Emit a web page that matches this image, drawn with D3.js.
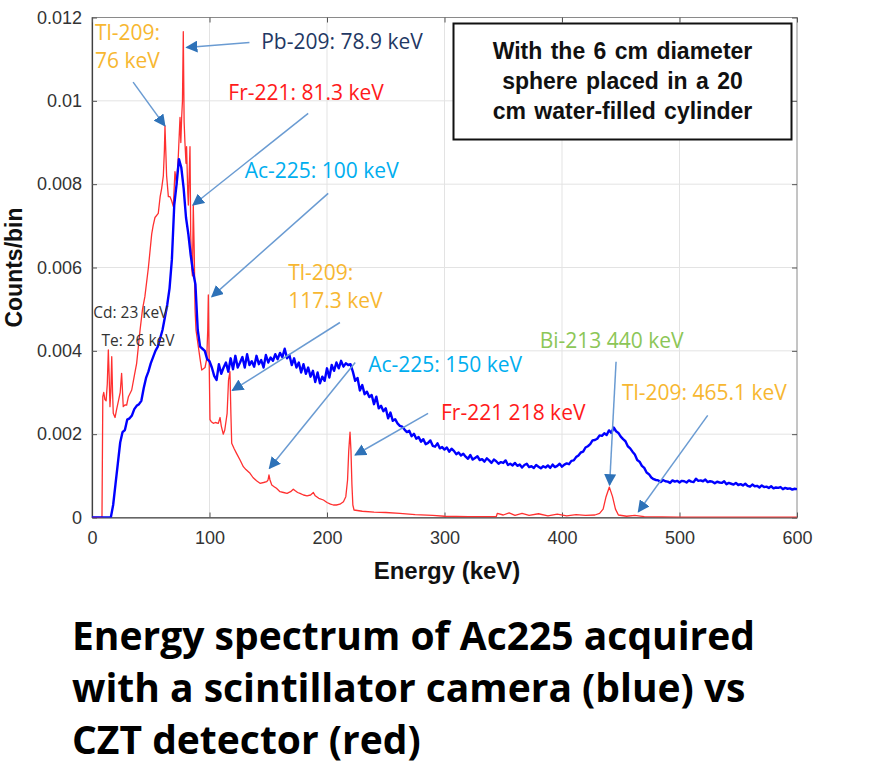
<!DOCTYPE html>
<html>
<head>
<meta charset="utf-8">
<script src="https://cdn.jsdelivr.net/npm/d3@7/dist/d3.min.js"></script>
<style>
  html, body { margin: 0; padding: 0; background: #fff; }
  svg { display: block; }
</style>
</head>
<body>
<svg id="chart" width="896" height="779"></svg>
<script>
// ---------------- DATA ----------------
const xTicks = [0, 100, 200, 300, 400, 500, 600];
const yTicks = [0, 0.002, 0.004, 0.006, 0.008, 0.01, 0.012];
const yTickLabels = ["0", "0.002", "0.004", "0.006", "0.008", "0.01", "0.012"];

// Scintillator camera (blue), bins of 2 keV starting at 0 keV (one row = 20 keV)
const blueStartKeV = 0, blueBinKeV = 2;
const blueCounts = [
  0,0,0,0,0,0,0,0,0,0.0003,
  0.0008,0.0013,0.0018,0.00205,0.0021,0.00235,0.00238,0.00245,0.0026,0.00268,
  0.00272,0.0028,0.0031,0.00335,0.0035,0.0037,0.00385,0.004,0.0041,0.0043,
  0.0045,0.0048,0.0051,0.0055,0.0062,0.0075,0.008,0.0086,0.0084,0.0079,
  0.0072,0.0068,0.0063,0.0059,0.0056,0.0045,0.0041,0.00405,0.004,0.0038,
  0.00375,0.0036,0.0034,0.0033,0.00368,0.00345,0.0036,0.00372,0.0035,0.00382,
  0.00356,0.00388,0.0036,0.00372,0.00385,0.0036,0.00392,0.00366,0.00375,0.00362,
  0.00388,0.00368,0.00378,0.0036,0.0039,0.00372,0.00384,0.00376,0.00392,0.0038,
  0.00395,0.00385,0.00405,0.00382,0.0039,0.00366,0.00382,0.0036,0.00372,0.00348,
  0.00368,0.00345,0.0036,0.00338,0.00352,0.00325,0.00348,0.00322,0.00338,0.00328,
  0.00358,0.00336,0.00366,0.00352,0.00372,0.00358,0.00376,0.00362,0.0037,0.00366,
  0.00368,0.0035,0.00328,0.00335,0.00305,0.00318,0.00296,0.00302,0.00289,0.00294,
  0.00272,0.0029,0.00262,0.00268,0.00255,0.00262,0.00238,0.00252,0.00232,0.00236,
  0.00226,0.0022,0.00218,0.00211,0.00205,0.00208,0.00195,0.00201,0.00189,0.00193,
  0.00182,0.00188,0.00176,0.00179,0.00185,0.00172,0.0017,0.00178,0.00166,0.00169,
  0.00163,0.00168,0.00158,0.00165,0.0016,0.00152,0.00156,0.00149,0.00153,0.00146,
  0.00141,0.0015,0.00139,0.00143,0.00147,0.00138,0.0014,0.00134,0.00142,0.00137,
  0.00131,0.00139,0.00135,0.00129,0.00133,0.00131,0.00137,0.00126,0.00129,0.00125,
  0.00131,0.00124,0.00127,0.0012,0.00126,0.00129,0.00121,0.00123,0.00119,0.00126,
  0.00122,0.00118,0.00123,0.0012,0.00125,0.00119,0.00127,0.00121,0.00124,0.00129,
  0.00122,0.00127,0.0013,0.00128,0.00136,0.00137,0.00145,0.00149,0.00156,0.00158,
  0.00168,0.00171,0.00176,0.00185,0.00186,0.00189,0.00197,0.00196,0.00202,0.00198,
  0.00209,0.00203,0.00216,0.00207,0.00203,0.00194,0.00188,0.00183,0.00171,0.00166,
  0.00158,0.00151,0.00138,0.00134,0.00124,0.00119,0.00108,0.00104,0.00096,0.00092,
  0.0009,0.00089,0.00085,0.0009,0.00087,0.00086,0.00083,0.00089,0.00086,0.00088,
  0.00084,0.00088,0.00087,0.00084,0.00089,0.00086,0.00085,0.00093,0.00088,0.00089,
  0.00087,0.00091,0.00085,0.00087,0.00086,0.00082,0.00086,0.00084,0.00083,0.00087,
  0.0008,0.00083,0.00081,0.00079,0.00083,0.00078,0.0008,0.00077,0.00081,0.00076,
  0.00074,0.00079,0.00075,0.00076,0.00072,0.00077,0.00073,0.00074,0.00071,0.00075,
  0.0007,0.00072,0.00071,0.00073,0.00068,0.00071,0.00069,0.0007,0.00067,0.00069,
  0.00068
];

// CZT detector (red), energy (keV) and counts/bin
const redEnergy = [
  0,8.5,9.2,10,11,12,13,13.9,14.6,15.3,16,16.8,17.5,18.1,19.6,21,22.5,24,25.2,26.6,
  28,29.5,31,33.8,36,38,40.9,43,45,48,50.8,52,53.6,56.4,58,59.3,60.7,61.6,62.1,62.8,
  63.5,65,66.4,67.8,69.2,70.6,72,73.5,74.9,75.6,76.3,77,77.7,78.4,79.1,80,80.5,81.5,82,83,
  83.4,84,84.8,85.5,86.2,87,87.7,88.5,90.5,92,93.4,96.2,97.6,98.5,99,99.6,100.4,101.5,103.3,105,
  107.5,109,110,111.7,113,115,116.2,117.4,118.2,118.9,121,123,126,128.8,131,134.5,137,140,143,146,
  148.7,149.8,150.6,151.5,153,155,157,160,163,166,169,171.3,173,175,177,180,183,186,188.4,190,
  193,197,200,203,205.4,208,211,214,216,217.5,218.5,219.6,220.4,221.2,222,223,230,240,250,262,
  275,290,300,320,344,345,350,355,360,366,372,380,388,396,404,412,420,428,432,435,
  437.5,440.3,443,445.5,448,455,462,465,470,500,600
];
const redCounts = [
  0,0,0.0029,0.003,0.00283,0.0028,0.0032,0.00402,0.0034,0.00266,0.003,0.00386,0.003,0.0025,0.0024,0.0026,0.0028,0.003,0.00346,0.00266,
  0.0027,0.0027,0.0029,0.00306,0.0034,0.0037,0.0045,0.005,0.0053,0.006,0.0068,0.007,0.0072,0.0073,0.0077,0.0079,0.0082,0.0088,0.0094,0.0088,
  0.0082,0.0077,0.0077,0.0076,0.00746,0.0083,0.008,0.0087,0.0096,0.009,0.0096,0.01,0.01166,0.0095,0.009,0.0085,0.0089,0.0078,0.0075,0.0085,
  0.0089,0.0068,0.006,0.0058,0.0075,0.0064,0.005,0.0045,0.0041,0.0038,0.00354,0.0036,0.0038,0.0045,0.00534,0.004,0.00235,0.0023,0.00226,0.00228,
  0.00226,0.0024,0.0022,0.002,0.0021,0.0025,0.0033,0.0035,0.0025,0.00178,0.00165,0.00154,0.00138,0.00122,0.00115,0.00106,0.00096,0.00088,0.00082,0.00084,
  0.00086,0.0009,0.00102,0.0009,0.00078,0.00074,0.0007,0.00062,0.0006,0.00058,0.00062,0.00068,0.00064,0.0006,0.00058,0.00054,0.00052,0.00054,0.0006,0.00052,
  0.00046,0.00042,0.00036,0.00032,0.0003,0.0003,0.00032,0.00038,0.0005,0.0009,0.0016,0.00205,0.0016,0.0008,0.0003,0.00018,0.00015,0.00013,0.00012,0.0001,
  0.00007,0.00005,0.00003,0.00002,0.00002,0.0001,0.00006,0.00011,0.00005,0.0001,0.00005,0.00009,0.00004,0.00008,0.00004,0.00007,0.00005,0.00006,0.0001,0.0002,
  0.0005,0.00073,0.0005,0.0002,0.00006,0.00003,0.00005,0.00004,0.00002,0.00001,0.00001
];

// Peak annotations: label lines, colour key, label anchor (keV, counts) and arrow tail/head (keV, counts)
const peakLabels = [
  { lines: ["Tl-209:", "76 keV"], color: "orange", at: [2.5, 0.01145], tail: [35, 0.01045], head: [62, 0.0094] },
  { lines: ["Pb-209: 78.9 keV"], color: "navy", at: [144, 0.01125], tail: [134, 0.0114], head: [80.5, 0.01128] },
  { lines: ["Fr-221: 81.3 keV"], color: "red", at: [116, 0.01003], tail: [184, 0.0097], head: [86, 0.0075] },
  { lines: ["Ac-225: 100 keV"], color: "cyan", at: [130, 0.00815], tail: [201, 0.00778], head: [102, 0.0053] },
  { lines: ["Tl-209:", "117.3 keV"], color: "orange", at: [167, 0.0057], tail: [211, 0.00468], head: [119.5, 0.00305] },
  { lines: ["Ac-225: 150 keV"], color: "cyan", at: [235, 0.00350], tail: [224, 0.00372], head: [151, 0.00118] },
  { lines: ["Fr-221 218 keV"], color: "red", at: [297, 0.00235], tail: [286, 0.00250], head: [224, 0.00150] },
  { lines: ["Bi-213 440 keV"], color: "green", at: [381, 0.00408], tail: [446, 0.00374], head: [440.5, 0.00078] },
  { lines: ["Tl-209: 465.1 keV"], color: "orange", at: [451, 0.00282], tail: [524, 0.00245], head: [465, 0.00014] }
];
const xrayLabels = [
  { text: "Cd: 23 keV", at: [1, 0.00480] },
  { text: "Te: 26 keV", at: [8, 0.00411] }
];
const boxLines = ["With the 6 cm diameter", "sphere placed in a 20", "cm water-filled cylinder"];
const titleLines = ["Energy spectrum of Ac225 acquired", "with a scintillator camera (blue) vs", "CZT detector (red)"];
const xLabel = "Energy (keV)";
const yLabel = "Counts/bin";

// ---------------- STYLE ----------------
const colors = {
  orange: "#F7B731", navy: "#1F3864", red: "#FF1A1A", cyan: "#00AEEF", green: "#8CC657",
  blueLine: "#0000FF", redLine: "#FF3030", arrowLine: "#6A9BD2", arrowHead: "#2E72B8"
};
const M = { left: 92, right: 797, top: 17.5, bottom: 517.5 };

const svg = d3.select("#chart");
const x = d3.scaleLinear().domain([0, 600]).range([M.left, M.right]);
const y = d3.scaleLinear().domain([0, 0.012]).range([M.bottom, M.top]);

// grid
const grid = svg.append("g").attr("stroke", "#e3e3e3").attr("stroke-width", 1);
grid.selectAll("line.vx").data(xTicks.slice(1, -1)).join("line")
  .attr("x1", d => x(d)).attr("x2", d => x(d)).attr("y1", M.top).attr("y2", M.bottom);
grid.selectAll("line.hy").data(yTicks.slice(1, -1)).join("line")
  .attr("y1", d => y(d)).attr("y2", d => y(d)).attr("x1", M.left).attr("x2", M.right);

// box (top/right)
svg.append("rect").attr("x", M.left).attr("y", M.top).attr("width", M.right - M.left).attr("height", M.bottom - M.top)
  .attr("fill", "none").attr("stroke", "#8a8a8a").attr("stroke-width", 1);

// axes
const tickFont = "'Liberation Sans', Arial, sans-serif";
const xAxis = svg.append("g").attr("transform", `translate(0,${M.bottom})`)
  .call(d3.axisBottom(x).tickValues(xTicks).tickFormat(d3.format("d")).tickSizeInner(-5).tickSizeOuter(0).tickPadding(14));
const yAxis = svg.append("g").attr("transform", `translate(${M.left},0)`)
  .call(d3.axisLeft(y).tickValues(yTicks).tickFormat((d, i) => yTickLabels[i]).tickSizeInner(-5).tickSizeOuter(0).tickPadding(10));
// top / right ticks
svg.append("g").attr("transform", `translate(0,${M.top})`)
  .call(d3.axisTop(x).tickValues(xTicks).tickFormat("").tickSizeInner(-5).tickSizeOuter(0)).select(".domain").remove();
svg.append("g").attr("transform", `translate(${M.right},0)`)
  .call(d3.axisRight(y).tickValues(yTicks).tickFormat("").tickSizeInner(-5).tickSizeOuter(0)).select(".domain").remove();
svg.selectAll(".tick line").attr("stroke", "#555");
[xAxis, yAxis].forEach(a => {
  a.select(".domain").attr("stroke", "#404040").attr("stroke-width", 1.2);
  a.selectAll("text").attr("font-family", tickFont).attr("font-size", 18).attr("fill", "#333");
});

// lines
svg.append("defs").append("clipPath").attr("id", "plotclip").append("rect")
  .attr("x", M.left).attr("y", M.top).attr("width", M.right - M.left).attr("height", M.bottom - M.top);
const plot = svg.append("g").attr("clip-path", "url(#plotclip)");
const redData = redEnergy.map((e, i) => [e, redCounts[i]]);
const blueData = blueCounts.map((c, i) => [blueStartKeV + i * blueBinKeV, c]);
const line = d3.line().x(d => x(d[0])).y(d => y(d[1]));
plot.append("path").datum(redData).attr("d", line).attr("fill", "none")
  .attr("stroke", colors.redLine).attr("stroke-width", 1.3).attr("stroke-linejoin", "round");
plot.append("path").datum(blueData).attr("d", line).attr("fill", "none")
  .attr("stroke", colors.blueLine).attr("stroke-width", 2.4).attr("stroke-linejoin", "round");

// arrows
const defs = svg.select("defs");
defs.append("marker").attr("id", "ahead").attr("viewBox", "0 0 10 10").attr("refX", 9).attr("refY", 5)
  .attr("markerUnits", "userSpaceOnUse").attr("orient", "auto")
  .attr("markerWidth", 12).attr("markerHeight", 12)
  .append("path").attr("d", "M0,0 L10,5 L0,10 Z").attr("fill", colors.arrowHead);

const annFont = "'Open Sans', 'Noto Sans', sans-serif";
const ann = svg.append("g");
peakLabels.forEach(p => {
  ann.append("line")
    .attr("x1", x(p.tail[0])).attr("y1", y(p.tail[1]))
    .attr("x2", x(p.head[0])).attr("y2", y(p.head[1]))
    .attr("stroke", colors.arrowLine).attr("stroke-width", 1.5).attr("marker-end", "url(#ahead)");
  const t = ann.append("text").attr("x", x(p.at[0])).attr("y", y(p.at[1]))
    .attr("font-family", annFont).attr("font-size", 21).attr("fill", colors[p.color]);
  p.lines.forEach((l, i) => t.append("tspan").attr("x", x(p.at[0])).attr("dy", i === 0 ? 0 : 28).text(l));
});
xrayLabels.forEach(l => {
  ann.append("text").attr("x", x(l.at[0])).attr("y", y(l.at[1]))
    .attr("font-family", annFont).attr("font-size", 15.5).attr("fill", "#333").text(l.text);
});

// info box
svg.append("rect").attr("x", 453.5).attr("y", 23.5).attr("width", 338).attr("height", 116)
  .attr("fill", "#fff").attr("stroke", "#111").attr("stroke-width", 2);
const bt = svg.append("text").attr("text-anchor", "middle").attr("font-family", "'Liberation Sans', Arial, sans-serif")
  .attr("font-weight", "bold").attr("font-size", 23).attr("word-spacing", 2).attr("fill", "#111");
boxLines.forEach((l, i) => bt.append("tspan").attr("x", 622.5).attr("y", 58.5 + i * 30.3).text(l));

// axis labels
svg.append("text").attr("x", 447).attr("y", 579).attr("text-anchor", "middle")
  .attr("font-family", "'Liberation Sans', Arial, sans-serif").attr("font-weight", "bold").attr("font-size", 24)
  .attr("fill", "#111").text(xLabel);
svg.append("text").attr("transform", `translate(22,${(M.top + M.bottom) / 2}) rotate(-90)`).attr("text-anchor", "middle")
  .attr("font-family", "'Liberation Sans', Arial, sans-serif").attr("font-weight", "bold").attr("font-size", 23)
  .attr("fill", "#111").text(yLabel);

// title
const tt = svg.append("text").attr("font-family", "'Open Sans', 'Noto Sans', sans-serif").attr("font-weight", "bold")
  .attr("font-size", 39).attr("fill", "#000");
titleLines.forEach((l, i) => tt.append("tspan").attr("x", 72).attr("y", 650 + i * 52).text(l));
</script>
</body>
</html>
